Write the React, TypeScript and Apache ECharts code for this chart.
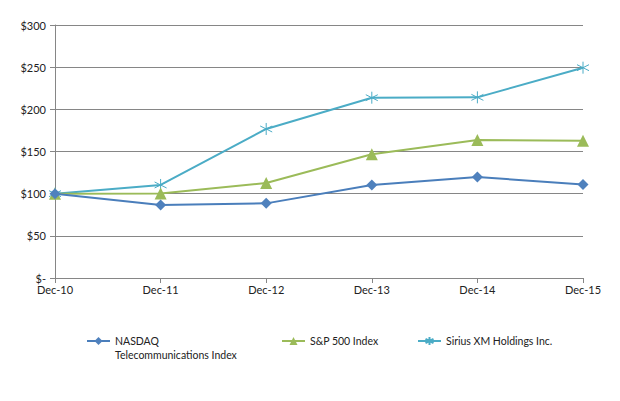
import React, { useEffect, useRef } from "react";
import * as echarts from "echarts";

const categories = ["Dec-10", "Dec-11", "Dec-12", "Dec-13", "Dec-14", "Dec-15"];
const nasdaq = [100, 86.5, 88.5, 110.3, 119.8, 110.8];
const sp500 = [100, 100.2, 112.6, 146.7, 163.6, 162.6];
const sirius = [100, 110.3, 176.7, 213.8, 214.2, 249.4];
const seriesNames = ["NASDAQ\nTelecommunications Index", "S&P 500 Index", "Sirius XM Holdings Inc."];

const FONT = "Lato, 'Open Sans', sans-serif";
const asterisk = "path://M5,0L5,10M0.67,2.5L9.33,7.5M0.67,7.5L9.33,2.5";

export default function App() {
  const ref = useRef<HTMLDivElement>(null);
  useEffect(() => {
    const chart = echarts.init(ref.current!, undefined, { renderer: "svg" });
    const legendBase = {
      padding: 0,
      itemWidth: 23,
      itemHeight: 10,
      textStyle: { fontFamily: FONT, fontSize: 10.5, color: "#222", lineHeight: 14 },
    };
    chart.setOption({
      animation: false,
      backgroundColor: "#fff",
      grid: { left: 55, right: 37, top: 25, bottom: 123, containLabel: false },
      legend: [
        {
          ...legendBase,
          left: 86,
          top: 320,
          data: [seriesNames[0]],
          formatter: (name: string) => " \n" + name,
        },
        { ...legendBase, left: 281, top: 334, data: [seriesNames[1]] },
        { ...legendBase, left: 417, top: 334, data: [seriesNames[2]] },
      ],
      xAxis: {
        type: "category",
        data: categories,
        boundaryGap: false,
        axisLine: { lineStyle: { color: "#868686", width: 1 } },
        axisTick: { show: true, length: 5, alignWithLabel: true, lineStyle: { color: "#868686" } },
        axisLabel: { fontFamily: FONT, fontSize: 11, color: "#222", margin: 6 },
      },
      yAxis: {
        type: "value",
        min: 0,
        max: 300,
        interval: 50,
        axisLine: { show: true, lineStyle: { color: "#868686", width: 1 } },
        axisTick: { show: true, length: 5, inside: false, lineStyle: { color: "#868686" } },
        splitLine: { lineStyle: { color: "#868686", width: 1 } },
        axisLabel: {
          fontFamily: FONT,
          fontSize: 11,
          color: "#222",
          margin: 9,
          formatter: (v: number) => (v === 0 ? "$-" : "$" + v),
        },
      },
      series: [
        {
          name: seriesNames[0],
          type: "line",
          data: nasdaq,
          symbol: "diamond",
          symbolSize: 11,
          lineStyle: { color: "#4A7EBB", width: 2 },
          itemStyle: { color: "#4F81BD" },
          z: 4,
        },
        {
          name: seriesNames[1],
          type: "line",
          data: sp500,
          symbol: "triangle",
          symbolSize: 12,
          lineStyle: { color: "#9BBB59", width: 2 },
          itemStyle: { color: "#9BBB59" },
          z: 3,
        },
        {
          name: seriesNames[2],
          type: "line",
          data: sirius,
          symbol: asterisk,
          symbolSize: 12,
          lineStyle: { color: "#4BACC6", width: 2 },
          itemStyle: { color: "#4BACC6", borderColor: "#4BACC6", borderWidth: 1 },
          z: 2,
        },
      ],
    });
    return () => chart.dispose();
  }, []);
  return <div ref={ref} style={{ width: 620, height: 401, margin: -8 }} />;
}
